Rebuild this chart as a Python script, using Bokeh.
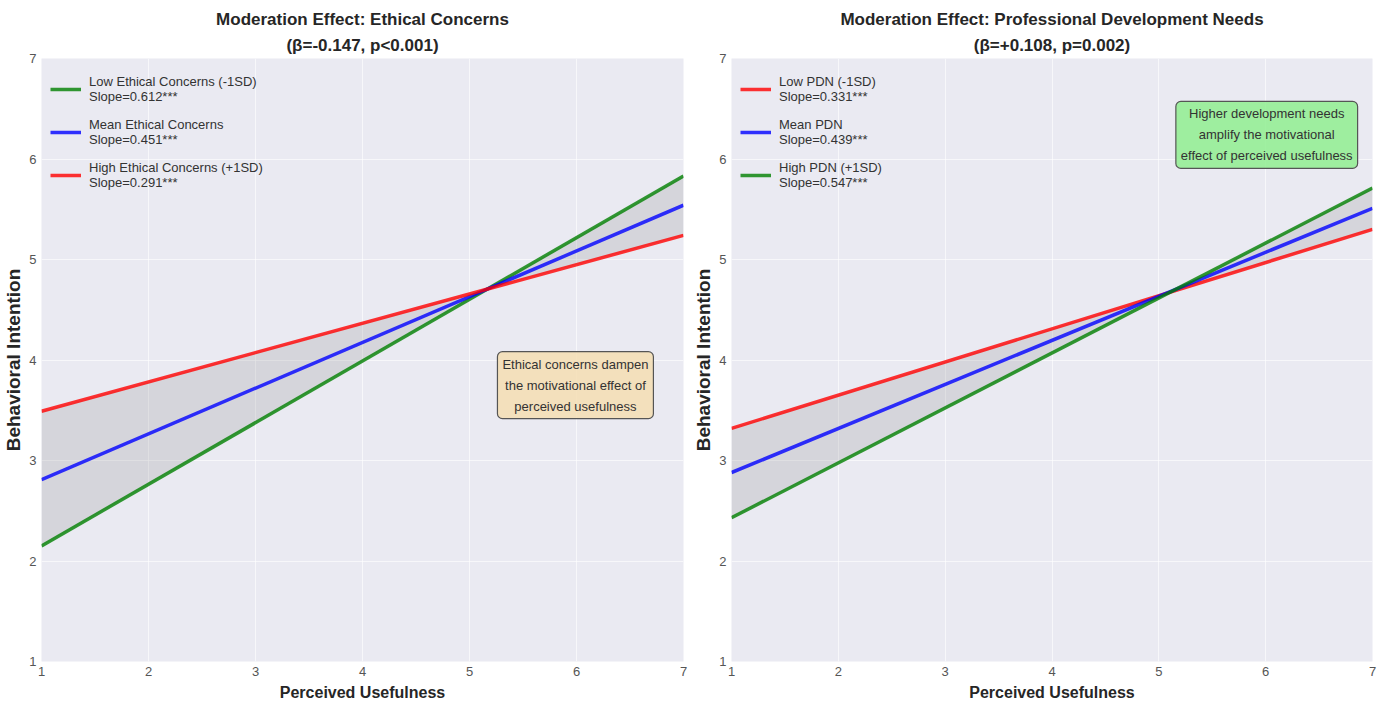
from bokeh.plotting import figure
from bokeh.layouts import row
from bokeh.models import Legend, LegendItem, Label, Range1d, FixedTicker, Title
from bokeh.embed import file_html
from bokeh.resources import INLINE

# ---- data (values at x = 1 and x = 7) ----
pu_x = [1, 7]

ec_low = [2.15, 5.83]     # Low Ethical Concerns (-1SD)
ec_mean = [2.81, 5.54]    # Mean Ethical Concerns
ec_high = [3.49, 5.24]    # High Ethical Concerns (+1SD)
ec_labels = ["Low Ethical Concerns (-1SD)\nSlope=0.612***",
             "Mean Ethical Concerns\nSlope=0.451***",
             "High Ethical Concerns (+1SD)\nSlope=0.291***"]

pdn_low = [3.32, 5.30]    # Low PDN (-1SD)
pdn_mean = [2.88, 5.51]   # Mean PDN
pdn_high = [2.43, 5.71]   # High PDN (+1SD)
pdn_labels = ["Low PDN (-1SD)\nSlope=0.331***",
              "Mean PDN\nSlope=0.439***",
              "High PDN (+1SD)\nSlope=0.547***"]

ticks = [1, 2, 3, 4, 5, 6, 7]

FONT = "Liberation Sans"
BG = "#eaeaf2"


def make_panel(title1, title2, series, colors, labels, note, note_x, note_y,
               note_bg, left_border, frame_w, right_border, band_pair):
    top, bottom, frame_h = 58, 46, 603
    p = figure(width=left_border + frame_w + right_border,
               height=top + frame_h + bottom,
               output_backend="svg", toolbar_location=None, title=None,
               x_range=Range1d(1, 7), y_range=Range1d(1, 7),
               min_border_left=left_border, min_border_right=right_border,
               min_border_top=top, min_border_bottom=bottom)
    p.background_fill_color = BG
    p.border_fill_color = "white"
    p.outline_line_color = None

    t2 = Title(text=title2, align="center", text_font=FONT,
               text_font_size="17px", text_font_style="bold",
               text_color="#262626", standoff=8)
    t1 = Title(text=title1, align="center", text_font=FONT,
               text_font_size="17px", text_font_style="bold",
               text_color="#262626", standoff=2)
    p.add_layout(t2, "above")
    p.add_layout(t1, "above")

    for ax in (p.xaxis[0], p.yaxis[0]):
        ax.ticker = FixedTicker(ticks=ticks)
        ax.axis_line_color = None
        ax.major_tick_line_color = None
        ax.minor_tick_line_color = None
        ax.major_tick_out = 0
        ax.major_tick_in = 0
        ax.minor_tick_out = 0
        ax.minor_tick_in = 0
        ax.major_label_text_font = FONT
        ax.major_label_text_font_size = "13px"
        ax.major_label_text_color = "#555555"
        ax.axis_label_text_font_style = "bold"
        ax.axis_label_text_color = "#262626"
    p.xaxis.axis_label = "Perceived Usefulness"
    p.xaxis.axis_label_text_font = FONT
    p.xaxis.axis_label_text_font_size = "16px"
    p.xaxis.major_label_standoff = 5
    p.xaxis.axis_label_standoff = 5
    p.yaxis.axis_label = "Behavioral Intention"
    p.yaxis.axis_label_text_font = FONT
    p.yaxis.axis_label_text_font_size = "19px"
    p.yaxis.major_label_standoff = 5
    p.yaxis.axis_label_standoff = 2

    p.xgrid.grid_line_color = "white"
    p.ygrid.grid_line_color = "white"
    p.xgrid.grid_line_alpha = 0.6
    p.ygrid.grid_line_alpha = 0.6

    lo, hi = band_pair
    p.varea(x=pu_x, y1=lo, y2=hi, fill_color="gray", fill_alpha=0.2)

    items = []
    for ys, c, lab in zip(series, colors, labels):
        r = p.line(pu_x, ys, line_color=c, line_width=3.5, line_alpha=0.8)
        items.append(LegendItem(label=lab, renderers=[r]))

    legend = Legend(items=items, location="top_left")
    legend.background_fill_alpha = 0
    legend.border_line_color = None
    legend.title = " "
    legend.title_text_font_size = "7px"
    legend.title_standoff = 0
    legend.label_text_font = FONT
    legend.label_text_font_size = "13px"
    legend.label_text_color = "#333333"
    legend.label_standoff = 8
    legend.glyph_width = 31
    legend.spacing = 13
    legend.margin = 9
    legend.padding = 2
    p.add_layout(legend)

    lbl = Label(x=note_x, y=note_y, text=note, text_align="center",
                text_baseline="middle", text_font=FONT,
                text_font_size="13px", text_line_height=1.4,
                text_color="#333333",
                background_fill_color=note_bg, background_fill_alpha=0.85,
                border_line_color="#555555", border_line_width=1.2,
                padding=5, border_radius=5)
    p.add_layout(lbl)
    return p


p1 = make_panel("Moderation Effect: Ethical Concerns", "(β=-0.147, p<0.001)",
                [ec_low, ec_mean, ec_high], ["green", "blue", "red"], ec_labels,
                "Ethical concerns dampen\nthe motivational effect of\nperceived usefulness",
                5.99, 3.75, "wheat", 41, 642, 7, (ec_low, ec_high))
p2 = make_panel("Moderation Effect: Professional Development Needs",
                "(β=+0.108, p=0.002)",
                [pdn_low, pdn_mean, pdn_high], ["red", "blue", "green"], pdn_labels,
                "Higher development needs\namplify the motivational\neffect of perceived usefulness",
                6.01, 6.24, "lightgreen", 41, 641, 10, (pdn_low, pdn_high))

layout = row(p1, p2)
open("out.html", "w").write(file_html(layout, INLINE))
